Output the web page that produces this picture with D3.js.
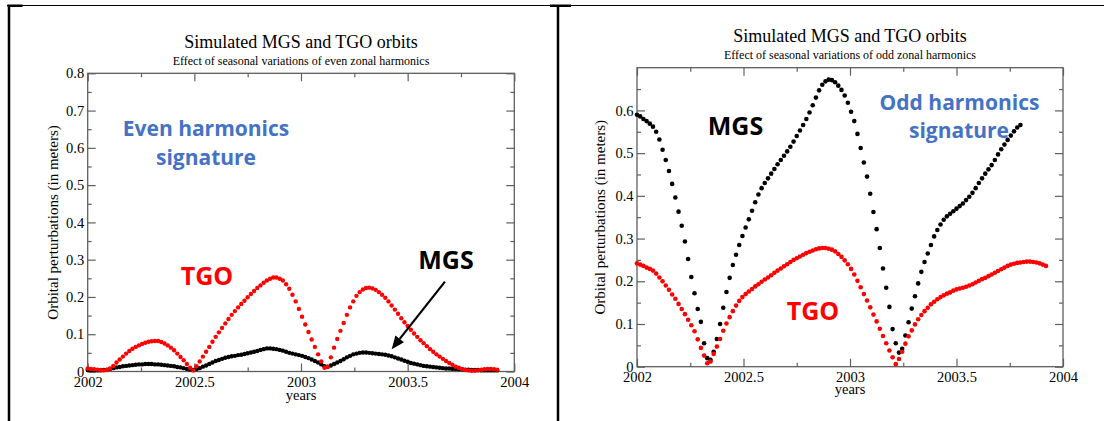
<!DOCTYPE html>
<html>
<head>
<meta charset="utf-8">
<script src="https://cdn.jsdelivr.net/npm/d3@7"></script>
<style>
  body { margin: 0; background: #fff; }
</style>
</head>
<body>
<div id="viz"></div>
<script>
// samples every 0.015 yr starting at 2002.0
const sampleStart = 2002;
const sampleStep = 0.015;

// even zonal harmonics (left panel)
const evenTGO = [
  0.008, 0.007, 0.006, 0.005, 0.004, 0.003, 0.004, 0.008, 0.015, 0.024, 0.032, 0.040, 0.048, 0.055, 0.061, 0.066, 0.070, 0.074, 0.077, 0.080,
  0.081, 0.082, 0.082, 0.079, 0.075, 0.070, 0.064, 0.057, 0.048, 0.039, 0.030, 0.020, 0.010, 0.003, 0.014, 0.027, 0.040, 0.053, 0.066, 0.080,
  0.093, 0.105, 0.117, 0.129, 0.141, 0.152, 0.162, 0.172, 0.181, 0.190, 0.199, 0.208, 0.216, 0.224, 0.231, 0.238, 0.244, 0.249, 0.252, 0.252,
  0.249, 0.244, 0.234, 0.222, 0.206, 0.188, 0.168, 0.147, 0.126, 0.106, 0.086, 0.066, 0.046, 0.027, 0.010, 0.012, 0.038, 0.064, 0.087, 0.109,
  0.130, 0.152, 0.172, 0.188, 0.203, 0.213, 0.220, 0.224, 0.225, 0.223, 0.219, 0.213, 0.206, 0.198, 0.188, 0.177, 0.166, 0.155, 0.143, 0.132,
  0.122, 0.112, 0.102, 0.093, 0.084, 0.076, 0.068, 0.060, 0.053, 0.046, 0.040, 0.034, 0.028, 0.023, 0.018, 0.013, 0.010, 0.007, 0.004, 0.003,
  0.002, 0.002, 0.003, 0.005, 0.006, 0.007, 0.007, 0.006, 0.005
];
const evenMGS = [
  0.004, 0.003, 0.003, 0.003, 0.003, 0.004, 0.005, 0.007, 0.009, 0.011, 0.012, 0.014, 0.015, 0.016, 0.017, 0.018, 0.019, 0.019, 0.020, 0.020,
  0.020, 0.019, 0.019, 0.018, 0.017, 0.016, 0.015, 0.014, 0.012, 0.011, 0.009, 0.007, 0.005, 0.004, 0.006, 0.009, 0.013, 0.016, 0.020, 0.024,
  0.028, 0.031, 0.034, 0.037, 0.039, 0.041, 0.042, 0.044, 0.045, 0.047, 0.049, 0.051, 0.053, 0.055, 0.058, 0.060, 0.062, 0.062, 0.061, 0.060,
  0.058, 0.056, 0.053, 0.050, 0.048, 0.046, 0.044, 0.042, 0.039, 0.036, 0.032, 0.028, 0.024, 0.019, 0.014, 0.013, 0.016, 0.020, 0.024, 0.028,
  0.033, 0.038, 0.042, 0.046, 0.048, 0.050, 0.051, 0.051, 0.050, 0.049, 0.048, 0.047, 0.046, 0.045, 0.043, 0.041, 0.038, 0.035, 0.032, 0.029,
  0.026, 0.023, 0.021, 0.019, 0.017, 0.015, 0.014, 0.013, 0.012, 0.011, 0.010, 0.009, 0.008, 0.008, 0.007, 0.007, 0.006, 0.006, 0.005, 0.005,
  0.004, 0.004, 0.004, 0.003, 0.003, 0.003, 0.003, 0.003, 0.003
];

// odd zonal harmonics (right panel)
const oddMGS = [
  0.590, 0.586, 0.580, 0.575, 0.569, 0.562, 0.550, 0.532, 0.508, 0.484, 0.458, 0.428, 0.396, 0.363, 0.330, 0.293, 0.252, 0.210, 0.172, 0.135,
  0.105, 0.055, 0.020, 0.016, 0.035, 0.065, 0.100, 0.138, 0.175, 0.208, 0.238, 0.262, 0.285, 0.306, 0.326, 0.345, 0.365, 0.385, 0.403, 0.418,
  0.430, 0.441, 0.452, 0.463, 0.474, 0.484, 0.494, 0.504, 0.515, 0.527, 0.540, 0.553, 0.566, 0.580, 0.595, 0.612, 0.630, 0.647, 0.660, 0.668,
  0.672, 0.671, 0.666, 0.658, 0.648, 0.635, 0.618, 0.597, 0.575, 0.545, 0.512, 0.478, 0.445, 0.405, 0.362, 0.322, 0.278, 0.230, 0.185, 0.140,
  0.088, 0.055, 0.033, 0.042, 0.073, 0.104, 0.136, 0.165, 0.195, 0.222, 0.245, 0.265, 0.285, 0.305, 0.320, 0.333, 0.344, 0.352, 0.358, 0.364,
  0.370, 0.376, 0.382, 0.390, 0.398, 0.407, 0.418, 0.430, 0.441, 0.452, 0.462, 0.472, 0.484, 0.497, 0.509, 0.520, 0.531, 0.541, 0.551, 0.560,
  0.566
];
const oddTGO = [
  0.242, 0.239, 0.236, 0.232, 0.229, 0.225, 0.218, 0.209, 0.200, 0.190, 0.180, 0.169, 0.159, 0.147, 0.135, 0.123, 0.110, 0.097, 0.083, 0.064,
  0.044, 0.026, 0.008, 0.012, 0.030, 0.047, 0.065, 0.084, 0.101, 0.116, 0.130, 0.143, 0.154, 0.163, 0.170, 0.176, 0.182, 0.188, 0.193, 0.199,
  0.204, 0.209, 0.214, 0.220, 0.225, 0.230, 0.235, 0.240, 0.245, 0.250, 0.254, 0.258, 0.262, 0.266, 0.269, 0.272, 0.275, 0.277, 0.278, 0.278,
  0.276, 0.274, 0.270, 0.264, 0.257, 0.249, 0.240, 0.229, 0.216, 0.201, 0.186, 0.170, 0.155, 0.139, 0.122, 0.106, 0.089, 0.072, 0.055, 0.038,
  0.022, 0.006, 0.018, 0.035, 0.054, 0.071, 0.085, 0.099, 0.111, 0.121, 0.130, 0.138, 0.146, 0.152, 0.158, 0.163, 0.167, 0.171, 0.174, 0.178,
  0.181, 0.183, 0.185, 0.187, 0.190, 0.193, 0.197, 0.201, 0.205, 0.208, 0.212, 0.216, 0.220, 0.224, 0.228, 0.232, 0.236, 0.239, 0.241, 0.243,
  0.244, 0.245, 0.246, 0.246, 0.245, 0.244, 0.242, 0.239, 0.236
];

const xTicks = [2002, 2002.5, 2003, 2003.5, 2004];
const xMinorTicks = [2002.25, 2002.75, 2003.25, 2003.75];
const evenYTicks = [0, 0.1, 0.2, 0.3, 0.4, 0.5, 0.6, 0.7, 0.8];
const evenYMinorTicks = [0.05, 0.15, 0.25, 0.35, 0.45, 0.55, 0.65, 0.75];
const oddYTicks = [0, 0.1, 0.2, 0.3, 0.4, 0.5, 0.6];
const oddYMinorTicks = [0.05, 0.15, 0.25, 0.35, 0.45, 0.55, 0.65];

const serif = "'Liberation Serif', 'Times New Roman', serif";
const sans = "'Open Sans', 'Noto Sans', sans-serif";
const axisColor = '#5f5f5f';
const blue = '#4472c4';

const svg = d3.select('#viz')
  .append('svg')
  .attr('width', 1104)
  .attr('height', 421);

// page frame (table borders)
svg.append('line').attr('x1', 7).attr('x2', 1104).attr('y1', 5.5).attr('y2', 5.5)
  .attr('stroke', '#000').attr('stroke-width', 1);
svg.append('rect').attr('x', 7.5).attr('y', 4.5).attr('width', 15).attr('height', 2.5).attr('fill', '#000');
svg.append('rect').attr('x', 550).attr('y', 4.5).attr('width', 21).attr('height', 2.5).attr('fill', '#000');
[9, 558].forEach(x => {
  svg.append('line').attr('x1', x).attr('x2', x).attr('y1', 5).attr('y2', 421)
    .attr('stroke', '#000').attr('stroke-width', 2.5);
});

const fmtX = d => String(d);
const fmtY = d => (d === 0 ? '0' : d.toFixed(1));

function drawPanel(p) {
  const x = d3.scaleLinear().domain([2002, 2004]).range([p.left, p.right]);
  const y = d3.scaleLinear().domain([0, p.yMax]).range([p.bottom, p.top]);
  const g = svg.append('g');

  function addAxis(axis, tx, ty) {
    const a = g.append('g').attr('transform', `translate(${tx},${ty})`).call(axis);
    a.select('.domain').remove();
    a.selectAll('line').attr('stroke', axisColor).attr('stroke-width', 1.2);
    a.selectAll('text')
      .attr('font-family', serif)
      .attr('font-size', 14.5)
      .attr('fill', '#000');
    return a;
  }

  // bottom / top
  addAxis(d3.axisBottom(x).tickValues(xTicks).tickSize(-8).tickPadding(5).tickFormat(fmtX), 0, p.bottom);
  addAxis(d3.axisBottom(x).tickValues(xMinorTicks).tickSize(-4).tickFormat(''), 0, p.bottom);
  addAxis(d3.axisTop(x).tickValues(xTicks).tickSize(-8).tickFormat(''), 0, p.top);
  addAxis(d3.axisTop(x).tickValues(xMinorTicks).tickSize(-4).tickFormat(''), 0, p.top);
  // left / right
  addAxis(d3.axisLeft(y).tickValues(p.yTicks).tickSize(-8).tickPadding(3.5).tickFormat(fmtY), p.left, 0);
  addAxis(d3.axisLeft(y).tickValues(p.yMinor).tickSize(-4).tickFormat(''), p.left, 0);
  addAxis(d3.axisRight(y).tickValues(p.yTicks).tickSize(-8).tickFormat(''), p.right, 0);
  addAxis(d3.axisRight(y).tickValues(p.yMinor).tickSize(-4).tickFormat(''), p.right, 0);

  g.append('rect')
    .attr('x', p.left).attr('y', p.top)
    .attr('width', p.right - p.left).attr('height', p.bottom - p.top)
    .attr('fill', 'none').attr('stroke', axisColor).attr('stroke-width', 1.3);

  // series as dots, one sample every sampleStep years
  p.series.forEach(s => {
    g.append('g')
      .selectAll('circle')
      .data(s.values)
      .join('circle')
      .attr('cx', (d, i) => x(sampleStart + i * sampleStep))
      .attr('cy', d => y(d))
      .attr('r', s.r)
      .attr('fill', s.color);
  });

  // titles
  const cx = (p.left + p.right) / 2;
  g.append('text').text('Simulated MGS and TGO orbits')
    .attr('x', cx).attr('y', p.titleY).attr('text-anchor', 'middle')
    .attr('font-family', serif).attr('font-size', 18);
  g.append('text').text(p.subtitle)
    .attr('x', cx).attr('y', p.subtitleY).attr('text-anchor', 'middle')
    .attr('font-family', serif).attr('font-size', 12);
  g.append('text').text('years')
    .attr('x', cx).attr('y', p.xLabelY).attr('text-anchor', 'middle')
    .attr('font-family', serif).attr('font-size', 14.5);
  g.append('text').text('Orbital perturbations (in meters)')
    .attr('transform', `translate(${p.yLabelX},${(p.top + p.bottom) / 2}) rotate(-90)`)
    .attr('text-anchor', 'middle')
    .attr('font-family', serif).attr('font-size', 15);

  // annotations
  p.notes.forEach(n => {
    g.append('text').text(n.text)
      .attr('x', n.x).attr('y', n.y).attr('text-anchor', 'middle')
      .attr('font-family', sans).attr('font-weight', 700)
      .attr('font-size', n.size).attr('fill', n.color);
  });

  if (p.arrow) {
    const a = p.arrow;
    const x1 = x(a.from[0]), y1 = y(a.from[1]);
    const x2 = x(a.to[0]), y2 = y(a.to[1]);
    const ang = Math.atan2(y2 - y1, x2 - x1);
    const len = 13, half = 5.5;
    const bx = x2 - len * Math.cos(ang), by = y2 - len * Math.sin(ang);
    g.append('line')
      .attr('x1', x1).attr('y1', y1).attr('x2', bx).attr('y2', by)
      .attr('stroke', '#000').attr('stroke-width', 2.2);
    g.append('path')
      .attr('d', `M${x2},${y2}L${bx + half * Math.sin(ang)},${by - half * Math.cos(ang)}L${bx - half * Math.sin(ang)},${by + half * Math.cos(ang)}Z`)
      .attr('fill', '#000');
  }
}

drawPanel({
  left: 87.7, right: 514.3, top: 73.3, bottom: 371.5,
  yMax: 0.8, yTicks: evenYTicks, yMinor: evenYMinorTicks,
  titleY: 47.5, subtitleY: 64.5, xLabelY: 399.5, yLabelX: 57.5,
  subtitle: 'Effect of seasonal variations of even zonal harmonics',
  series: [
    { values: evenMGS, color: '#000', r: 2.2 },
    { values: evenTGO, color: '#ff0000', r: 2.2 }
  ],
  notes: [
    { text: 'Even harmonics', x: 206, y: 135.5, size: 21, color: blue },
    { text: 'signature', x: 206, y: 164.5, size: 21, color: blue },
    { text: 'TGO', x: 207, y: 284.5, size: 25, color: '#ff0000' },
    { text: 'MGS', x: 446, y: 268.5, size: 25, color: '#000' }
  ],
  arrow: { from: [2003.675, 0.241], to: [2003.425, 0.06] }
});

drawPanel({
  left: 637, right: 1063, top: 67.7, bottom: 366.7,
  yMax: 0.7, yTicks: oddYTicks, yMinor: oddYMinorTicks,
  titleY: 41.5, subtitleY: 58.5, xLabelY: 394, yLabelX: 605,
  subtitle: 'Effect of seasonal variations of odd zonal harmonics',
  series: [
    { values: oddMGS, color: '#000', r: 2.3 },
    { values: oddTGO, color: '#ff0000', r: 2.3 }
  ],
  notes: [
    { text: 'MGS', x: 735.5, y: 134.5, size: 25, color: '#000' },
    { text: 'Odd harmonics', x: 959.5, y: 109.5, size: 21, color: blue },
    { text: 'signature', x: 959, y: 138, size: 21, color: blue },
    { text: 'TGO', x: 813, y: 320, size: 25, color: '#ff0000' }
  ]
});
</script>
</body>
</html>
